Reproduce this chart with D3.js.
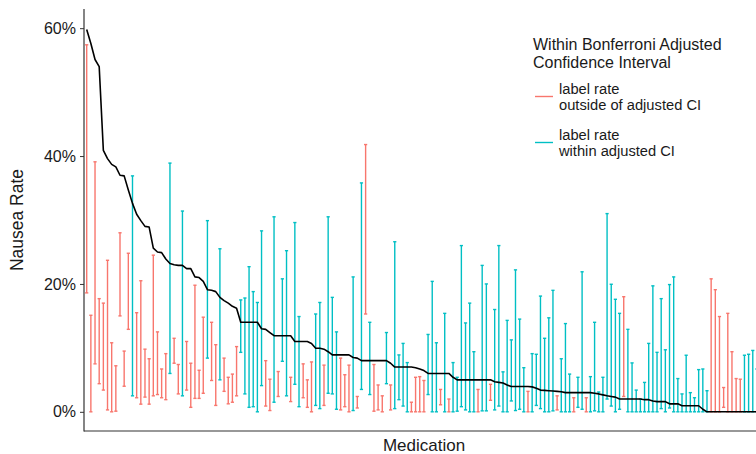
<!doctype html>
<html>
<head>
<meta charset="utf-8">
<title>Nausea rate by medication</title>
<style>
* {padding:0;margin:0}
body {background:#fff}
svg text {font-family:"Liberation Sans", Arial, Helvetica, sans-serif; fill:#1a1a1a}
</style>
</head>
<body>
<div id="chart"></div>
<script src="https://d3js.org/d3.v7.min.js"></script>
<script>

// label rate (%) of each medication, sorted high to low
const labelRate = [59.8,57.6,55.1,54.0,40.9,39.6,38.7,38.3,37.0,36.9,
	34.7,32.6,30.9,29.9,29.0,28.9,25.6,25.0,24.9,23.9,
	23.2,23.0,22.9,22.9,22.4,22.4,21.1,21.0,20.4,19.1,
	19.0,18.8,17.9,17.4,17.0,16.5,16.2,14.0,14.0,14.0,
	14.0,14.0,13.0,12.9,12.4,11.9,11.9,11.9,11.9,11.9,
	11.0,11.0,11.0,11.0,10.7,9.95,9.95,9.8,9.4,8.9,
	8.9,8.9,8.9,8.9,8.5,8.4,8.0,8.0,8.0,8.0,
	8.0,8.0,8.0,7.6,7.0,7.0,7.0,7.0,7.0,6.9,
	6.7,6.45,6.0,6.0,6.0,6.0,6.0,6.0,5.4,5.0,
	5.0,5.0,5.0,5.0,5.0,5.0,5.0,5.0,4.7,4.6,
	4.5,4.2,3.95,3.95,3.95,3.95,3.95,3.9,3.7,3.4,
	3.35,3.3,3.25,3.2,3.15,3.0,3.0,3.0,3.0,3.0,
	3.0,3.0,2.9,2.8,2.65,2.5,2.4,2.3,2.0,2.0,
	2.0,2.0,2.0,2.0,1.9,1.9,1.7,1.6,1.6,1.6,
	1.25,1.25,1.25,0.95,0.95,0.95,0.95,0.95,0.4,0,
	0,0,0,0,0,0,0,0,0,0,
	0,0];

// lower bound of the adjusted CI (%)
const ciLow = [18.6,0,7.5,4.4,3.4,0.3,0,0.1,15.0,4.0,
	12.9,2.5,2.2,1.2,2.3,1.2,2.5,2.7,2.2,1.9,
	6.0,7.6,2.8,2.5,3.4,0.7,2.1,2.1,2.9,8.4,
	4.9,1.0,5.0,3.2,1.25,1.5,2.5,9.3,2.8,0.7,
	0.8,0,4.1,0.9,0.2,1.5,2.4,7.9,2.5,1.6,
	4.3,0.8,2.2,0.7,0,1.0,0.5,1.0,2.9,2.8,
	0.4,0.3,0.8,0,0.2,0.6,3.5,15.3,2.7,0.1,
	0.3,0,4.4,0.3,0.5,1.9,0.9,0,0,0,
	0,0,2.7,0,0,1.1,0,0,0,0.1,
	0.8,0.3,0,0,0,0.15,0.15,1.8,0.3,0.9,
	0,0,1.7,0.2,0.4,0,0,0,1.0,0.5,
	0,0,0.15,0.3,0,0,0,0,0.7,0.4,
	0,0,0.15,0,0,2.0,0.9,0,0.4,2.4,
	0,0,0,0,0,0,0,0,0.5,0,
	0.6,0,0,0,0,0,0,0,0,0,
	0,0,0,0.7,0,0,0,0,0,0,
	0,0];

// upper bound of the adjusted CI (%)
const ciHigh = [57.4,15.1,39.1,17.7,17.0,23.7,10.8,7.2,28.0,9.5,
	24.8,36.9,15.5,20.5,9.8,8.3,24.5,12.5,6.7,9.1,
	38.9,11.5,7.4,31.4,11.0,7.6,19.8,6.5,14.8,29.9,
	14.0,10.5,25.5,8.4,5.4,5.9,10.2,17.5,17.8,22.7,
	18.8,17.1,28.3,8.0,5.1,30.5,6.3,20.8,25.2,5.4,
	29.6,14.9,7.5,5.0,7.8,15.3,17.1,7.3,30.5,17.9,
	12.5,8.4,5.8,7.3,21.1,2.4,35.8,41.8,14.0,7.4,
	4.2,2.5,12.4,4.2,26.6,8.9,10.7,7.7,1.5,5.4,
	5.5,4.9,12.1,20.4,10.8,3.5,15.4,2.0,7.7,5.4,
	26.0,13.9,17.0,9.4,3.5,22.9,20.0,4.3,16.0,26.0,
	6.25,14.3,11.25,22.2,14.5,6.9,3.2,9.1,9.0,18.1,
	11.5,14.7,19.0,2.5,8.3,13.8,5.9,2.2,5.4,21.9,
	2.2,5.5,14.0,3.1,5.4,31.0,19.95,17.6,15.4,18.0,
	12.9,7.65,3.4,2.0,4.6,10.7,19.7,9.3,17.7,9.7,
	19.9,21.1,5.2,2.8,8.85,3.0,2.2,6.6,6.7,3.3,
	20.8,19.1,14.9,3.8,15.4,9.4,5.2,5.1,8.85,9.0,
	9.6,6.7];

// 1 = label rate within adjusted CI, 0 = outside
const withinCI = [0,0,0,0,0,0,0,0,0,0,
	0,1,0,0,0,0,0,0,0,0,
	1,0,0,1,0,0,0,0,0,1,
	0,0,1,0,0,0,0,1,1,1,
	1,1,1,0,0,1,0,1,1,0,
	1,1,0,0,0,1,1,0,1,1,
	1,0,0,0,1,0,1,0,1,0,
	0,0,1,0,1,1,1,1,0,0,
	0,0,1,1,1,0,1,0,1,1,
	1,1,1,1,0,1,1,0,1,1,
	1,1,1,1,1,1,0,1,1,1,
	1,1,1,0,1,1,1,0,1,1,
	0,1,1,1,1,1,1,1,1,0,
	1,1,1,1,1,1,1,1,1,1,
	1,1,1,1,1,1,1,1,1,1,
	0,0,0,0,0,0,0,0,1,1,
	1,1];

const yTicks = [0, 20, 40, 60];
const legendTitle = ["Within Bonferroni Adjusted", "Confidence Interval"];
const legendItems = [
	{key: 0, lines: ["label rate", "outside of adjusted CI"]},
	{key: 1, lines: ["label rate", "within adjusted CI"]}
];
const colors = {0: "#F8766D", 1: "#00BFC4"};

const W = 756, H = 454;
const panel = {left: 84, top: 9, bottom: 431};

const meds = labelRate.map(function(d, i) {
	return {id: "med" + i, rate: d, lo: ciLow[i], hi: ciHigh[i], within: withinCI[i]};
});

const x = d3.scalePoint()
	.domain(meds.map(function(d) { return d.id; }))
	.range([86.7, 86.7 + 4.163 * (meds.length - 1)]);

const y = d3.scaleLinear()
	.domain([-3, 63])
	.range([panel.bottom, panel.top]);

const svg = d3.select("#chart").append("svg")
	.attr("width", W)
	.attr("height", H);

const body = svg.append("g");

// error bars
const bars = body.selectAll("g.bar")
	.data(meds).enter()
	.append("g")
	.attr("class", "bar")
	.attr("stroke", function(d) { return colors[d.within]; })
	.attr("stroke-width", 1.4);

bars.append("line")
	.attr("x1", function(d) { return x(d.id); })
	.attr("x2", function(d) { return x(d.id); })
	.attr("y1", function(d) { return y(d.lo); })
	.attr("y2", function(d) { return y(d.hi); });

bars.append("line")
	.attr("x1", function(d) { return x(d.id) - 1.6; })
	.attr("x2", function(d) { return x(d.id) + 1.6; })
	.attr("y1", function(d) { return y(d.hi); })
	.attr("y2", function(d) { return y(d.hi); });

bars.append("line")
	.attr("x1", function(d) { return x(d.id) - 1.6; })
	.attr("x2", function(d) { return x(d.id) + 1.6; })
	.attr("y1", function(d) { return y(d.lo); })
	.attr("y2", function(d) { return y(d.lo); });

// label rate line, carried on to the right edge at the last value
body.append("path")
	.datum(meds.concat([{id: null, rate: 0}]))
	.attr("fill", "none")
	.attr("stroke", "#000")
	.attr("stroke-width", 1.6)
	.attr("stroke-linejoin", "round")
	.attr("d", d3.line()
		.x(function(d) { return d.id === null ? W + 5 : x(d.id); })
		.y(function(d) { return y(d.rate); }));

// axes
const yAxis = svg.append("g")
	.attr("transform", "translate(" + panel.left + ",0)")
	.call(d3.axisLeft(y).tickValues(yTicks).tickSize(4).tickPadding(4)
		.tickFormat(function(d) { return d + "%"; }));
yAxis.select(".domain").remove();
yAxis.selectAll(".tick line").attr("stroke", "#333").attr("stroke-width", 1);
yAxis.selectAll(".tick text").attr("font-size", 16).attr("fill", "#1a1a1a");

svg.append("line")
	.attr("x1", panel.left).attr("x2", panel.left)
	.attr("y1", panel.top).attr("y2", panel.bottom + 0.5)
	.attr("stroke", "#333").attr("stroke-width", 1.2);
svg.append("line")
	.attr("x1", panel.left).attr("x2", W)
	.attr("y1", panel.bottom).attr("y2", panel.bottom)
	.attr("stroke", "#333").attr("stroke-width", 1.2);

svg.append("text")
	.attr("transform", "translate(23,220) rotate(-90)")
	.attr("text-anchor", "middle")
	.attr("font-size", 17.5)
	.text("Nausea Rate");

svg.append("text")
	.attr("x", 424)
	.attr("y", 451)
	.attr("text-anchor", "middle")
	.attr("font-size", 17)
	.text("Medication");

// legend
const legend = svg.append("g").attr("transform", "translate(533,0)");
legend.selectAll("text.title")
	.data(legendTitle).enter()
	.append("text")
	.attr("class", "title")
	.attr("x", 0)
	.attr("y", function(d, i) { return 50 + i * 18; })
	.attr("font-size", 16)
	.text(function(d) { return d; });

const items = legend.selectAll("g.item")
	.data(legendItems).enter()
	.append("g")
	.attr("class", "item")
	.attr("transform", function(d, i) { return "translate(0," + (i * 46) + ")"; });

items.append("line")
	.attr("x1", 2).attr("x2", 20)
	.attr("y1", 96.5).attr("y2", 96.5)
	.attr("stroke", function(d) { return colors[d.key]; })
	.attr("stroke-width", 1.4);

items.selectAll("text")
	.data(function(d) { return d.lines; }).enter()
	.append("text")
	.attr("x", 26)
	.attr("y", function(d, i) { return 94 + i * 16; })
	.attr("font-size", 14.7)
	.text(function(d) { return d; });

</script>
</body>
</html>
